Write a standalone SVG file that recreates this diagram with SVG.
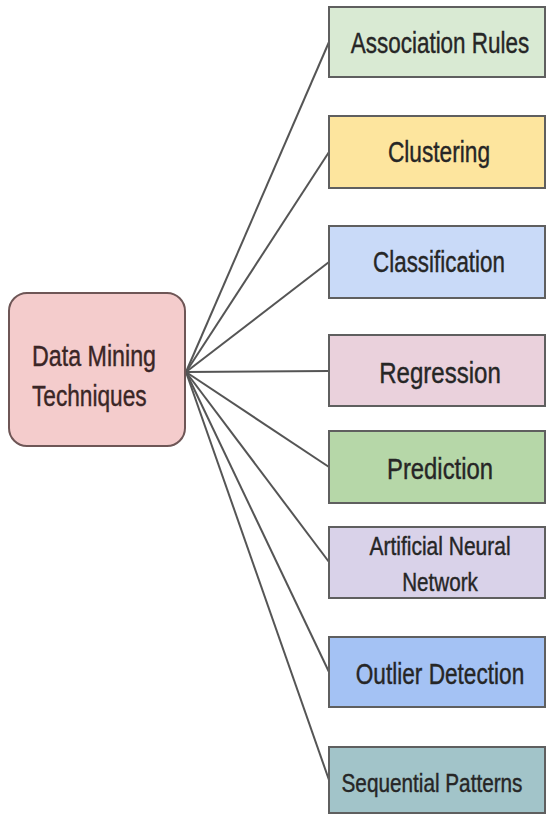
<svg xmlns="http://www.w3.org/2000/svg" width="547" height="816" viewBox="0 0 547 816">
  <style>
    .box { stroke: #5f5f5f; stroke-width: 2; }
    .hub { fill: #f4cccc; stroke: #6e5656; stroke-width: 2; }
    .lbl { font-family: "Liberation Sans", Arial, sans-serif; font-size: 29px; fill: #262626; stroke: #262626; stroke-width: 0.4; text-anchor: middle; }
    .sm { font-size: 25px; }
    .hubtxt { font-family: "Liberation Sans", Arial, sans-serif; font-size: 29px; fill: #3a2626; stroke: #3a2626; stroke-width: 0.4; }
    .link { stroke: #555; stroke-width: 2; fill: none; }
  </style>
  <rect width="547" height="816" fill="#ffffff"/>

  <!-- spokes from the hub to each technique -->
  <g id="connectors">
    <line class="link" x1="186" y1="372" x2="329" y2="42"/>
    <line class="link" x1="186" y1="372" x2="329" y2="152"/>
    <line class="link" x1="186" y1="372" x2="329" y2="262"/>
    <line class="link" x1="186" y1="372" x2="329" y2="371"/>
    <line class="link" x1="186" y1="372" x2="329" y2="467"/>
    <line class="link" x1="186" y1="372" x2="329" y2="562"/>
    <line class="link" x1="186" y1="372" x2="329" y2="672"/>
    <line class="link" x1="186" y1="372" x2="329" y2="780"/>
  </g>

  <!-- labels use a condensed (horizontally scaled) face -->
  <g id="data-mining-techniques">
    <rect class="hub" x="9" y="293" width="176" height="153" rx="18"/>
    <text class="hubtxt" transform="translate(32,366) scale(0.78,1)" textLength="159" lengthAdjust="spacingAndGlyphs">Data Mining</text>
    <text class="hubtxt" transform="translate(32,406) scale(0.78,1)" textLength="147" lengthAdjust="spacingAndGlyphs">Techniques</text>
  </g>

  <g id="association-rules">
    <rect class="box" x="329" y="7" width="216" height="70" fill="#d9ead3"/>
    <text class="lbl" transform="translate(440,53) scale(0.78,1)" textLength="229" lengthAdjust="spacingAndGlyphs">Association Rules</text>
  </g>

  <g id="clustering">
    <rect class="box" x="329" y="116" width="216" height="72" fill="#fde59e"/>
    <text class="lbl" transform="translate(439,162) scale(0.78,1)" textLength="131" lengthAdjust="spacingAndGlyphs">Clustering</text>
  </g>

  <g id="classification">
    <rect class="box" x="329" y="226" width="216" height="72" fill="#c9daf8"/>
    <text class="lbl" transform="translate(439,272) scale(0.78,1)" textLength="169" lengthAdjust="spacingAndGlyphs">Classification</text>
  </g>

  <g id="regression">
    <rect class="box" x="329" y="335" width="216" height="71" fill="#ead1dc"/>
    <text class="lbl" transform="translate(440,383) scale(0.78,1)" textLength="156" lengthAdjust="spacingAndGlyphs">Regression</text>
  </g>

  <g id="prediction">
    <rect class="box" x="329" y="431" width="216" height="72" fill="#b6d7a8"/>
    <text class="lbl" transform="translate(440,479) scale(0.78,1)" textLength="136" lengthAdjust="spacingAndGlyphs">Prediction</text>
  </g>

  <g id="artificial-neural-network">
    <rect class="box" x="329" y="527" width="216" height="71" fill="#d9d2e9"/>
    <text class="lbl sm" transform="translate(440,555) scale(0.78,1)" textLength="181" lengthAdjust="spacingAndGlyphs">Artificial Neural</text>
    <text class="lbl sm" transform="translate(440,591) scale(0.78,1)" textLength="97" lengthAdjust="spacingAndGlyphs">Network</text>
  </g>

  <g id="outlier-detection">
    <rect class="box" x="329" y="637" width="216" height="70" fill="#a4c2f4"/>
    <text class="lbl" transform="translate(440,684) scale(0.78,1)" textLength="216" lengthAdjust="spacingAndGlyphs">Outlier Detection</text>
  </g>

  <g id="sequential-patterns">
    <rect class="box" x="329" y="747" width="216" height="66" fill="#a2c4c9"/>
    <text class="lbl sm" transform="translate(432,792) scale(0.78,1)" textLength="232" lengthAdjust="spacingAndGlyphs">Sequential Patterns</text>
  </g>
</svg>
